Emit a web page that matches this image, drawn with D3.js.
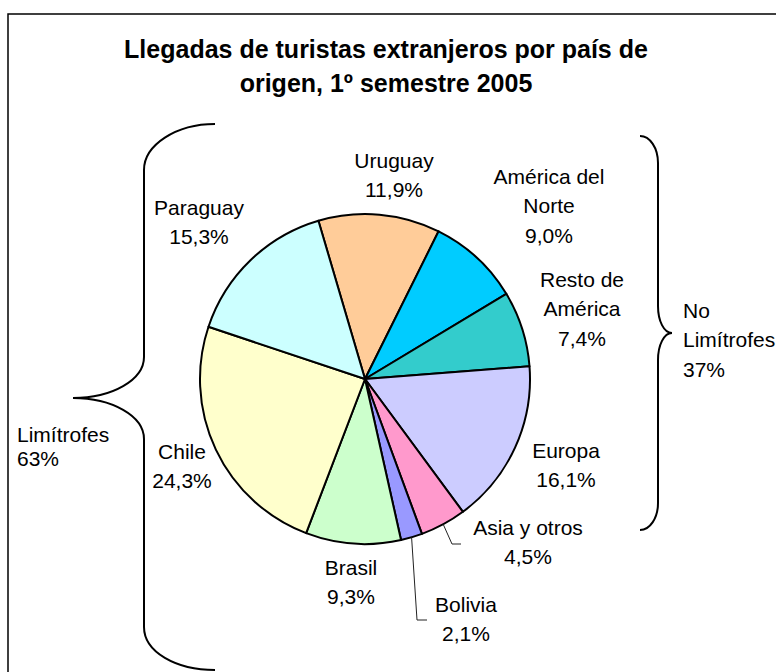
<!DOCTYPE html>
<html>
<head>
<meta charset="utf-8">
<script src="https://cdn.jsdelivr.net/npm/d3@7"></script>
<style>
  html, body { margin: 0; padding: 0; background: #fff; }
  svg { display: block; }
  text { font-family: "Liberation Sans", Arial, sans-serif; fill: #000; }
</style>
</head>
<body>
<script>
// ---- data ----
const categories = ["Uruguay", "América del Norte", "Resto de América", "Europa", "Asia y otros", "Bolivia", "Brasil", "Chile", "Paraguay"];
const labelNames = [["Uruguay"], ["América del", "Norte"], ["Resto de", "América"], ["Europa"], ["Asia y otros"], ["Bolivia"], ["Brasil"], ["Chile"], ["Paraguay"]];
const values = [11.9, 9.0, 7.4, 16.1, 4.5, 2.1, 9.3, 24.3, 15.3];
const colors = ["#FFCC99", "#00CCFF", "#33CCCC", "#CCCCFF", "#FF99CC", "#9999FF", "#CCFFCC", "#FFFFCC", "#CCFFFF"];
const groupLabels = [["Limítrofes", "63%"], ["No", "Limítrofes", "37%"]];
const titleLines = ["Llegadas de turistas extranjeros por país de", "origen, 1º semestre 2005"];

// ---- layout ----
const W = 776, H = 672;
const cx = 365, cy = 379, R = 165;
const startDeg = -16.4;
const labelAnchors = [
  {x: 394, y: 160}, {x: 549, y: 176}, {x: 582, y: 279}, {x: 566, y: 450},
  {x: 528, y: 527}, {x: 466, y: 604}, {x: 351, y: 567}, {x: 182, y: 451}, {x: 199, y: 207}
];
const lineGap = 29.5;
const leaders = { 4: [[452, 544], [461, 544]], 5: [[417, 620], [427, 620]] };

const svg = d3.select("body").append("svg").attr("width", W).attr("height", H);

// frame
svg.append("rect").attr("x", 8).attr("y", 14).attr("width", 900).attr("height", 900)
  .attr("fill", "none").attr("stroke", "#000").attr("stroke-width", 1.5);

// title
svg.append("text").attr("x", 386).attr("y", 58).attr("text-anchor", "middle")
  .attr("font-weight", "bold").attr("font-size", 25).text(titleLines[0]);
svg.append("text").attr("x", 386).attr("y", 92).attr("text-anchor", "middle")
  .attr("font-weight", "bold").attr("font-size", 25).text(titleLines[1]);

// pie
const a0 = startDeg * Math.PI / 180;
const pie = d3.pie().sort(null).value(d => d).startAngle(a0).endAngle(a0 + 2 * Math.PI);
const arcs = pie(values);
const arc = d3.arc().innerRadius(0).outerRadius(R);
const g = svg.append("g").attr("transform", `translate(${cx},${cy})`);
g.selectAll("path").data(arcs).join("path")
  .attr("d", arc)
  .attr("fill", (d, i) => colors[i])
  .attr("stroke", "#000").attr("stroke-width", 2).attr("stroke-linejoin", "round");

// leader lines
Object.keys(leaders).forEach(k => {
  const d = arcs[+k];
  const m = (d.startAngle + d.endAngle) / 2;
  const p0 = [cx + R * Math.sin(m), cy - R * Math.cos(m)];
  const pts = [p0].concat(leaders[k]);
  svg.append("path").attr("d", d3.line()(pts)).attr("fill", "none")
    .attr("stroke", "#222").attr("stroke-width", 1);
});

// labels
const fmt = v => v.toFixed(1).replace(".", ",") + "%";
values.forEach((v, i) => {
  const lines = labelNames[i].concat([fmt(v)]);
  const a = labelAnchors[i];
  const t = svg.append("text").attr("text-anchor", "middle").attr("font-size", 21);
  lines.forEach((s, j) => {
    t.append("tspan").attr("x", a.x).attr("y", a.y + j * lineGap).attr("dy", "0.36em").text(s);
  });
});

// braces
const brace = svg.append("g").attr("fill", "none").attr("stroke", "#000").attr("stroke-width", 2);
brace.append("path").attr("d",
  "M215,124 C176,124 144,145 144,170 L144,357 C144,380 112,398 73,398" +
  " C112,398 144,416 144,439 L144,627 C144,652 176,670 215,670");
brace.append("path").attr("d",
  "M640,136 C650,136 658,148 658,163 L658,306 C658,321 664,333 672,333" +
  " C664,333 658,345 658,360 L658,503 C658,518 650,530 640,530");

// group labels
const gl1 = svg.append("text").attr("font-size", 21);
groupLabels[0].forEach((s, j) => gl1.append("tspan").attr("x", 17).attr("y", 434 + j * 24).attr("dy", "0.36em").text(s));
const gl2 = svg.append("text").attr("font-size", 21);
groupLabels[1].forEach((s, j) => gl2.append("tspan").attr("x", 683).attr("y", 310 + j * 29.5).attr("dy", "0.36em").text(s));
</script>
</body>
</html>
